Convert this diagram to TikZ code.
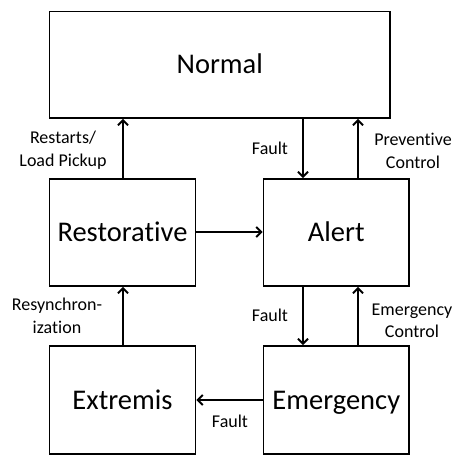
\documentclass[tikz,border=0pt]{standalone}
\usepackage{fontspec}
\setmainfont{Carlito}[Ligatures=CommonOff]
\usetikzlibrary{arrows.meta}
\begin{document}
\begin{tikzpicture}[x=1pt,y=-1pt,
  state/.style={draw,line width=1.9pt,rectangle,inner sep=0pt,text height=18pt,text depth=0pt,font=\fontsize{28.5}{30}\selectfont},
  arr/.style={line width=1.9pt,-{Straight Barb[length=5pt,width=10pt,line width=1.9pt]}},
  lbl/.style={font=\fontsize{18}{22.5}\selectfont,align=center,inner sep=0pt}]
\useasboundingbox (0,0) rectangle (453,456);
% states
\node[state,minimum width=340.5pt,minimum height=106.5pt] (norm) at (219.75,64.75) {Normal};
\node[state,minimum width=146pt,minimum height=107pt] (rest) at (122.5,232.5) {Restorative};
\node[state,minimum width=145.5pt,minimum height=107pt] (alert) at (336.25,232.5) {Alert};
\node[state,minimum width=146pt,minimum height=108pt] (extr) at (122.5,400) {Extremis};
\node[state,minimum width=145.5pt,minimum height=108pt] (emer) at (336.25,400) {Emergency};
% transitions
\draw[arr] ([xshift=0.5pt]rest.north) -- ([xshift=0.5pt]rest.north |- norm.south);
\draw[arr] ([xshift=-33.25pt]alert.north |- norm.south) -- ([xshift=-33.25pt]alert.north);
\draw[arr] ([xshift=21.75pt]alert.north) -- ([xshift=21.75pt]alert.north |- norm.south);
\draw[arr] ([yshift=0.5pt]rest.east) -- ([yshift=0.5pt]alert.west);
\draw[arr] ([xshift=-33.25pt]alert.south) -- ([xshift=-33.25pt]emer.north);
\draw[arr] ([xshift=21.75pt]emer.north) -- ([xshift=21.75pt]alert.south);
\draw[arr] ([xshift=0.5pt]extr.north) -- ([xshift=0.5pt]rest.south);
\draw[arr] (emer.west) -- (extr.east);
% labels
\node[lbl] (l1) at (63,150) {Restarts/\\Load Pickup};
\node[lbl] (l2) at (270,148) {Fault};
\node[lbl] (l3) at (413,151) {Preventive\\Control};
\node[lbl] (l4) at (57,316) {Resynchron-\\ization};
\node[lbl] (l5) at (270,315) {Fault};
\node[lbl] (l6) at (412,321) {Emergency\\Control};
\node[lbl] (l7) at (230,421) {Fault};
\end{tikzpicture}
\end{document}
